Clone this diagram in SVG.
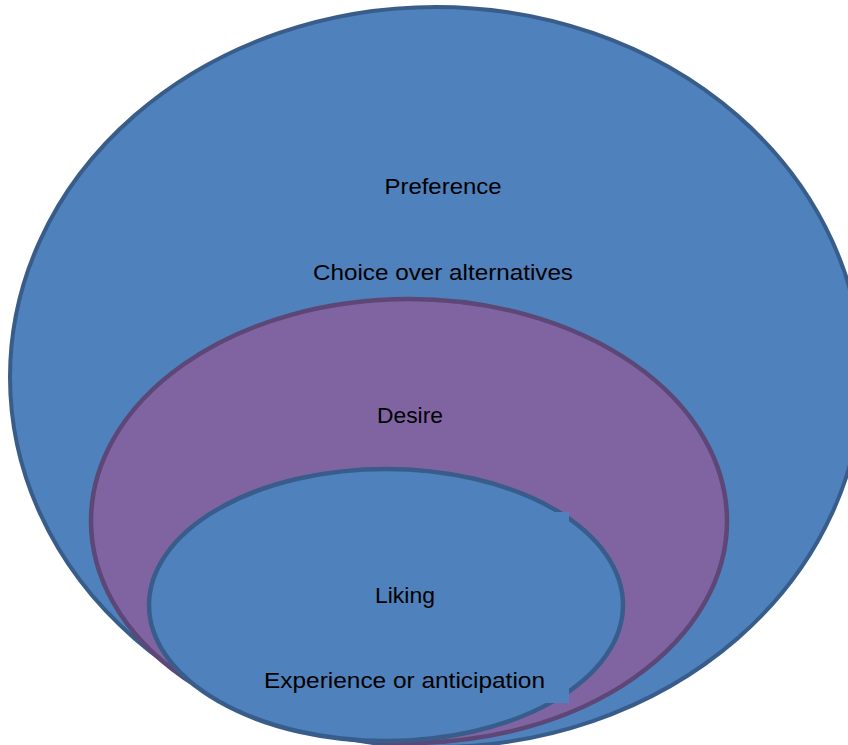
<svg xmlns="http://www.w3.org/2000/svg" width="848" height="745" viewBox="0 0 848 745">
  <style>
    .blue { fill: #4F81BD; stroke: #385D8A; }
    .purple { fill: #8064A2; stroke: #5C4776; }
    .lbl { font-family: "Liberation Sans", Arial, sans-serif; font-size: 22px; fill: #000000; text-anchor: middle; }
  </style>
  <rect x="0" y="0" width="848" height="745" fill="#FFFFFF"/>
  <g id="preference">
    <ellipse class="blue" cx="436" cy="377" rx="426" ry="370" stroke-width="4"/>
    <text class="lbl" x="443" y="194" textLength="117" lengthAdjust="spacingAndGlyphs">Preference</text>
    <text class="lbl" x="443" y="280" textLength="260" lengthAdjust="spacingAndGlyphs">Choice over alternatives</text>
  </g>
  <g id="desire">
    <ellipse class="purple" cx="409" cy="521" rx="318" ry="222" stroke-width="4.5"/>
    <text class="lbl" x="410" y="423" textLength="66" lengthAdjust="spacingAndGlyphs">Desire</text>
  </g>
  <g id="liking">
    <ellipse class="blue" cx="386" cy="605" rx="237" ry="136" stroke-width="4.5"/>
    <rect x="239" y="512" width="330" height="191" fill="#4F81BD"/>
    <text class="lbl" x="405" y="603" textLength="60" lengthAdjust="spacingAndGlyphs">Liking</text>
    <text class="lbl" x="404.5" y="688" textLength="281" lengthAdjust="spacingAndGlyphs">Experience or anticipation</text>
  </g>
  <g id="connectors"/>
</svg>
